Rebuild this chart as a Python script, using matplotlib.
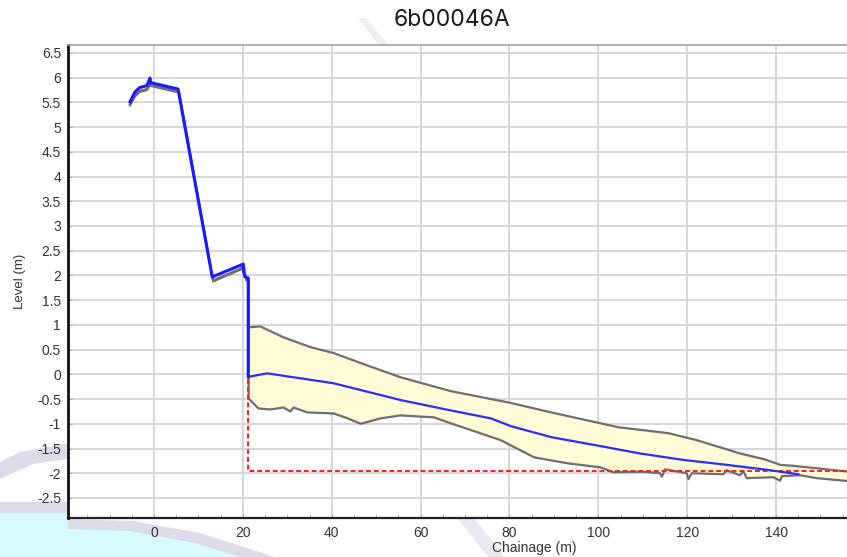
import matplotlib.pyplot as plt
from matplotlib.patches import Polygon
from matplotlib.ticker import MultipleLocator

# bed profile (upstream part, thick blue)
profile_ch = [-5.4, -4.3, -3.2, -1.6, -0.9, -0.8, 5.4, 13.1, 20.1, 20.1, 20.5, 21.2, 21.2]
profile_lvl = [5.51, 5.71, 5.80, 5.84, 5.99, 5.90, 5.77, 1.97, 2.23, 2.10, 1.97, 1.95, -0.05]

# water level (downstream, thin blue)
wl_ch = [21.2, 25.5, 40.4, 55.5, 66.8, 75.8, 80.4, 89.4, 100.4, 109.4, 119.1, 128.9, 137.9, 145.0]
wl_lvl = [-0.05, 0.02, -0.18, -0.52, -0.73, -0.89, -1.05, -1.27, -1.45, -1.60, -1.73, -1.83, -1.93, -2.02]

# envelope (grey lines, yellow band)
upper_ch = [-5.4, -4.3, -3.2, -1.6, -0.9, -0.6, 5.6, 13.3, 20.3, 20.4, 20.8, 21.3, 21.3, 23.9,
            29.1, 35.2, 40.4, 48.0, 55.5, 66.8, 80.4, 89.4, 104.5, 115.8, 122.1, 131.9, 137.5,
            140.9, 143.9, 149.2, 156.4, 165.0]
upper_lvl = [5.46, 5.64, 5.73, 5.77, 5.87, 5.85, 5.72, 1.90, 2.17, 2.05, 1.92, 1.90, 0.95, 0.97,
             0.75, 0.55, 0.43, 0.18, -0.06, -0.34, -0.58, -0.77, -1.07, -1.19, -1.33, -1.60, -1.72,
             -1.83, -1.85, -1.90, -1.97, -2.05]
lower_ch = [-5.4, -4.3, -3.2, -1.6, -0.9, -0.6, 5.6, 13.3, 20.3, 20.4, 20.8, 21.3, 21.3, 23.5,
            26.2, 29.1, 30.7, 31.4, 34.5, 40.4, 43.6, 46.5, 51.0, 55.5, 63.0, 66.8, 78.0, 85.6,
            93.2, 100.4, 103.4, 110.2, 113.9, 114.3, 115.0, 119.9, 120.3, 121.0, 128.1, 128.9,
            131.9, 132.6, 133.4, 139.4, 140.9, 141.3, 145.4, 149.2, 156.4, 165.0]
lower_lvl = [5.44, 5.62, 5.71, 5.75, 5.85, 5.83, 5.70, 1.88, 2.15, 2.03, 1.90, 1.88, -0.49, -0.69,
             -0.71, -0.67, -0.75, -0.67, -0.77, -0.79, -0.89, -1.00, -0.89, -0.83, -0.87, -0.99,
             -1.33, -1.68, -1.80, -1.88, -1.98, -1.97, -2.00, -2.07, -1.92, -2.00, -2.12, -2.00,
             -2.02, -1.94, -2.04, -1.95, -2.10, -2.08, -2.15, -2.06, -2.04, -2.10, -2.16, -2.22]

# red dashed line
red_ch = [21.2, 21.2, 165.0]
red_lvl = [1.95, -1.95, -1.95]

x_ticks = [0, 20, 40, 60, 80, 100, 120, 140]

fig = plt.figure(figsize=(8.47, 5.57), dpi=100)

# faint watermark shapes behind the chart
W, H = 847, 557
def px(pts):
    return [(x / W, 1 - y / H) for x, y in pts]
def blob(pts, color):
    fig.patches.append(Polygon(px(pts), closed=True, transform=fig.transFigure,
                               facecolor=color, edgecolor='none', zorder=-1))
blob([(0, 513), (75, 513), (75, 519), (133, 522), (200, 535), (240, 557), (0, 557)], '#d8fbfe')
blob([(68, 519), (133, 521), (200, 533), (275, 557), (240, 557), (195, 543), (130, 531), (68, 529)], '#dadce7')
blob([(0, 502), (75, 502), (75, 513), (0, 513)], '#dadce7')
blob([(0, 462), (20, 452), (75, 442), (75, 458), (33, 464), (0, 479)], '#dadce7')
blob([(458, 519), (475, 519), (505, 557), (488, 557)], '#e8eaf1')
blob([(358, 18), (366, 18), (388, 45), (378, 45)], '#eceef4')

ax = fig.add_axes([68 / W, (H - 518) / H, (1000 - 68) / W, (518 - 45) / H])

band = list(zip(upper_ch, upper_lvl)) + list(zip(lower_ch, lower_lvl))[::-1]
ax.add_patch(Polygon(band, closed=True, facecolor='#fdfcd6', edgecolor='none', zorder=1))
ax.plot(upper_ch, upper_lvl, color='#6e6e6e', lw=1.6, zorder=2)
ax.plot(lower_ch, lower_lvl, color='#6e6e6e', lw=1.6, zorder=2)
ax.plot(red_ch, red_lvl, color='#ff1a1a', lw=1.4, ls=(0, (2.5, 1.5)), zorder=3)
ax.plot(wl_ch, wl_lvl, color='#2b2bff', lw=1.6, zorder=4)
ax.plot(profile_ch, profile_lvl, color='#1a1aff', lw=2.2, zorder=5)

ax.set_xlim(-19.36, 190.4)
ax.set_ylim(-2.905, 6.66)
ax.set_xticks(x_ticks)
ax.xaxis.set_minor_locator(MultipleLocator(5))
ax.yaxis.set_major_locator(MultipleLocator(0.5))
ax.yaxis.set_major_formatter(plt.FuncFormatter(lambda v, p: f"{v:g}"))

ax.grid(True, which='major', color='#d6d6d6', lw=1.4, zorder=0)
ax.set_axisbelow(True)
ax.tick_params(axis='both', which='major', direction='in', length=3, color='#aaaaaa',
               labelsize=10, labelcolor='#333333')
ax.tick_params(axis='x', which='minor', direction='in', length=3, color='#aaaaaa')
ax.tick_params(axis='y', pad=5)
ax.tick_params(axis='x', pad=5.5)
for lbl in ax.get_xticklabels() + ax.get_yticklabels():
    lbl.set_family('Liberation Sans')

ax.spines['left'].set_color('#111111')
ax.spines['left'].set_linewidth(2)
ax.spines['bottom'].set_color('#222222')
ax.spines['bottom'].set_linewidth(1.6)
ax.spines['top'].set_color('#a0a0a0')
ax.spines['top'].set_linewidth(1.2)
ax.spines['right'].set_visible(False)

ax.set_xlabel("Chainage (m)", fontsize=10, color='#333333', family='Liberation Sans', labelpad=1)
ax.set_ylabel("Level (m)", fontsize=9.5, color='#333333', family='Liberation Sans', labelpad=8)

fig.text(452 / W, 1 - 20 / H, "6b00046A", ha='center', va='center', fontsize=16.5,
         family='Inter', color='#1a1a1a')

fig.savefig("out.png", dpi=100)
